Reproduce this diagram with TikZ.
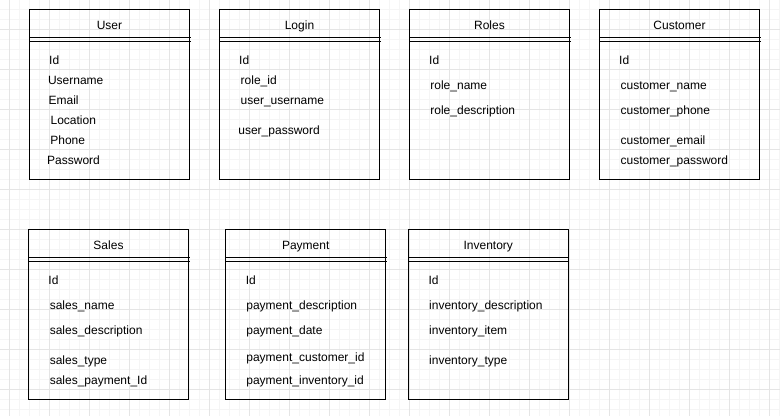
\documentclass[tikz,border=0pt]{standalone}
\usepackage{fontspec}
\setmainfont{Liberation Sans}
\definecolor{minorgrid}{HTML}{F5F5F5}
\definecolor{majorgrid}{HTML}{E5E5E5}

\begin{document}
\begin{tikzpicture}
  [x=1pt,y=-1pt,
   every node/.style={font=\fontsize{12}{14}\selectfont,inner sep=0pt},
   tbl/.style={rectangle,draw,line width=1.2pt,outer sep=0pt,anchor=north west,
               minimum width=160pt,minimum height=170pt},
   ttl/.style={anchor=base},
   fld/.style={anchor=base west},
   rule/.style={line width=1.2pt}]

  % paper with grid
  \useasboundingbox (0,0) rectangle (780,416);
  \fill[white] (0,0) rectangle (780,416);
  \foreach \x in {9.5,19.5,...,779.5}
    \draw[minorgrid,line width=1pt] (\x,0) -- (\x,416);
  \foreach \y in {9.5,19.5,...,415.5}
    \draw[minorgrid,line width=1pt] (0,\y) -- (780,\y);
  \foreach \x in {9.5,49.5,...,779.5}
    \draw[majorgrid,line width=1pt] (\x,0) -- (\x,416);
  \foreach \y in {29.5,69.5,...,415.5}
    \draw[majorgrid,line width=1pt] (0,\y) -- (780,\y);

  % tables
  \node[tbl] (user) at (29.5,9.5) {};
  \node[tbl] (login) at (219.5,9.5) {};
  \node[tbl] (roles) at (409.5,9.5) {};
  \node[tbl] (customer) at (599.5,9.5) {};
  \node[tbl] (sales) at (28.5,229.5) {};
  \node[tbl] (payment) at (225.7,229.5) {};
  \node[tbl] (inventory) at (408.3,229.5) {};

  \foreach \t in {user,login,roles,customer,sales,payment,inventory} {
    \draw[rule] ([yshift=-28pt]\t.north west) -- ([yshift=-28pt,xshift=1pt]\t.north east);
    \draw[rule] ([yshift=-32pt]\t.north west) -- ([yshift=-32pt,xshift=1pt]\t.north east);
  }

  % titles
  \node[ttl] (userT) at (109.5,29.3) {User};
  \node[ttl] (loginT) at (299.5,29.3) {Login};
  \node[ttl] (rolesT) at (489.5,29.3) {Roles};
  \node[ttl] (customerT) at (679.5,29.3) {Customer};
  \node[ttl] (salesT) at (108.5,249.3) {Sales};
  \node[ttl] (paymentT) at (305.7,249.3) {Payment};
  \node[ttl] (inventoryT) at (488.3,249.3) {Inventory};

  % User
  \node[fld] (u1) at (49,64.3) {Id};
  \node[fld] (u2) at (47.8,84.3) {Username};
  \node[fld] (u3) at (48.4,104.3) {Email};
  \node[fld] (u4) at (50.4,124.3) {Location};
  \node[fld] (u5) at (50.2,144.3) {Phone};
  \node[fld] (u6) at (47,164.3) {Password};

  % Login
  \node[fld] (l1) at (239,64.3) {Id};
  \node[fld] (l2) at (240.5,84.3) {role\_id};
  \node[fld] (l3) at (240.5,104.3) {user\_username};
  \node[fld] (l4) at (238.2,134.3) {user\_password};

  % Roles
  \node[fld] (r1) at (429,64.3) {Id};
  \node[fld] (r2) at (430.2,89.3) {role\_name};
  \node[fld] (r3) at (430.2,114.3) {role\_description};

  % Customer
  \node[fld] (c1) at (619,64.3) {Id};
  \node[fld] (c2) at (620.5,89.3) {customer\_name};
  \node[fld] (c3) at (620.5,114.3) {customer\_phone};
  \node[fld] (c4) at (620.5,144.3) {customer\_email};
  \node[fld] (c5) at (620.5,164.3) {customer\_password};

  % Sales
  \node[fld] (s1) at (48.3,284.3) {Id};
  \node[fld] (s2) at (49.6,309.3) {sales\_name};
  \node[fld] (s3) at (49.6,334.3) {sales\_description};
  \node[fld] (s4) at (49.6,364.3) {sales\_type};
  \node[fld] (s5) at (49.6,384.3) {sales\_payment\_Id};

  % Payment
  \node[fld] (p1) at (245.7,284.3) {Id};
  \node[fld] (p2) at (246.2,309.3) {payment\_description};
  \node[fld] (p3) at (246.2,334.3) {payment\_date};
  \node[fld] (p4) at (246.2,361) {payment\_customer\_id};
  \node[fld] (p5) at (246.2,384.3) {payment\_inventory\_id};

  % Inventory
  \node[fld] (i1) at (428.3,284.3) {Id};
  \node[fld] (i2) at (429,309.3) {inventory\_description};
  \node[fld] (i3) at (429,334.3) {inventory\_item};
  \node[fld] (i4) at (429,364.3) {inventory\_type};

\end{tikzpicture}
\end{document}
